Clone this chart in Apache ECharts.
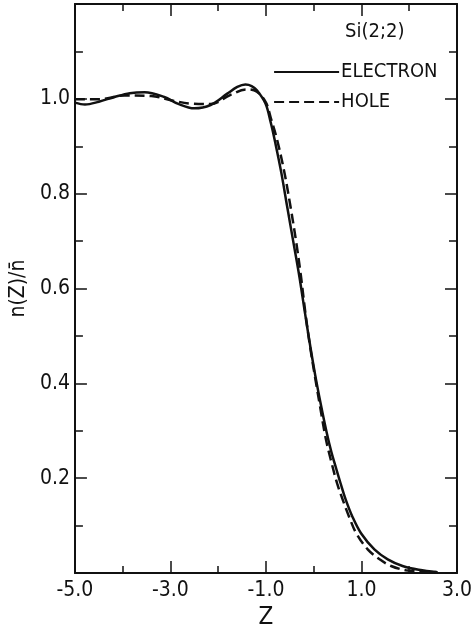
<!DOCTYPE html>
<html><head><meta charset="utf-8">
<script src="https://cdn.jsdelivr.net/npm/echarts@6/dist/echarts.min.js"></script>
<style>html,body{margin:0;padding:0;background:#fff}#c{width:476px;height:635px}</style>
</head><body><div id="c"></div>
<script>
// Data
const electronZ = [-5.0, -4.79, -4.5, -4.17, -3.85, -3.54, -3.13, -2.85, -2.5, -2.16, -1.81, -1.6, -1.43, -1.3, -1.19, -1.01, -0.90, -0.80, -0.68, -0.56, -0.43, -0.30, -0.19, -0.08, 0.03, 0.15, 0.27, 0.37, 0.46, 0.56, 0.67, 0.81, 0.99, 1.27, 1.55, 1.86, 2.2, 2.59];
const electronN = [0.992, 0.988, 0.994, 1.004, 1.012, 1.014, 1.004, 0.990, 0.980, 0.987, 1.011, 1.025, 1.030, 1.027, 1.018, 0.990, 0.950, 0.905, 0.845, 0.775, 0.700, 0.625, 0.553, 0.483, 0.418, 0.355, 0.297, 0.255, 0.224, 0.190, 0.155, 0.119, 0.084, 0.050, 0.029, 0.015, 0.007, 0.002];
const holeZ = [-5.0, -4.5, -3.96, -3.4, -2.99, -2.57, -2.16, -1.75, -1.41, -1.19, -1.0, -0.90, -0.77, -0.62, -0.49, -0.37, -0.27, -0.18, -0.08, 0.03, 0.14, 0.25, 0.36, 0.49, 0.61, 0.74, 0.89, 1.13, 1.38, 1.62, 1.93, 2.3, 2.59];
const holeN = [0.999, 0.999, 1.007, 1.006, 0.997, 0.990, 0.989, 1.008, 1.020, 1.015, 0.992, 0.960, 0.915, 0.848, 0.775, 0.700, 0.628, 0.553, 0.480, 0.412, 0.347, 0.285, 0.238, 0.189, 0.154, 0.119, 0.084, 0.050, 0.029, 0.015, 0.006, 0.003, 0.002];
const xTickLabels = ['-5.0', '-3.0', '-1.0', '1.0', '3.0'];
const yTickLabels = ['0.2', '0.4', '0.6', '0.8', '1.0'];
const seriesNames = ['ELECTRON', 'HOLE'];
const figureTitle = 'Si(2;2)';

const FONT = "'DejaVu Sans Condensed', 'Liberation Sans', sans-serif";
const INK = '#111';

function pairs(xs, ys) { return xs.map((x, i) => [x, ys[i]]); }

const chart = echarts.init(document.getElementById('c'), null, {renderer: 'canvas'});

const xBase = {
  type: 'value', min: -5, max: 3, interval: 2,
  axisLine: {show: true, onZero: false, lineStyle: {color: INK, width: 2}},
  axisTick: {show: true, inside: true, length: 12, lineStyle: {color: INK, width: 1.5}},
  minorTick: {show: true, splitNumber: 2, length: 7, lineStyle: {color: INK, width: 1.5}},
  splitLine: {show: false}, minorSplitLine: {show: false}
};
const yBase = {
  type: 'value', min: 0, max: 1.2, interval: 0.2,
  axisLine: {show: true, onZero: false, lineStyle: {color: INK, width: 2}},
  axisTick: {show: true, inside: true, length: 12, lineStyle: {color: INK, width: 1.5}},
  minorTick: {show: true, splitNumber: 2, length: 8, lineStyle: {color: INK, width: 1.5}},
  splitLine: {show: false}, minorSplitLine: {show: false}
};

chart.setOption({
  backgroundColor: '#fff',
  animation: false,
  title: {
    text: figureTitle, left: 340, top: 17,
    textStyle: {fontFamily: FONT, fontSize: 20, fontWeight: 'normal', color: INK}
  },
  legend: {
    orient: 'vertical', left: 268, top: 57, itemWidth: 65, itemHeight: 20, itemGap: 10,
    data: seriesNames,
    itemStyle: {opacity: 0},
    lineStyle: {width: 2.2},
    textStyle: {fontFamily: FONT, fontSize: 20, color: INK, padding: [0, 0, 0, -3]}
  },
  grid: {left: 73, right: 19, top: 4, bottom: 58, containLabel: false},
  xAxis: [
    Object.assign({}, xBase, {
      position: 'bottom',
      name: 'Z', nameLocation: 'middle', nameGap: 32,
      nameTextStyle: {fontFamily: FONT, fontSize: 24, color: INK},
      axisLabel: {
        show: true, margin: 7, fontFamily: FONT, fontSize: 21, color: INK,
        showMinLabel: true, showMaxLabel: true,
        formatter: v => { const s = (Math.abs(v) < 1e-9 ? 0 : v).toFixed(1); return xTickLabels.includes(s) ? s : ''; }
      }
    }),
    Object.assign({}, xBase, {position: 'top', axisLabel: {show: false}})
  ],
  yAxis: [
    Object.assign({}, yBase, {
      position: 'left',
      name: 'n(Z)/n\u0304', nameLocation: 'middle', nameGap: 42, nameRotate: 90,
      nameTextStyle: {fontFamily: FONT, fontSize: 21, color: INK},
      axisLabel: {
        show: true, margin: 5, fontFamily: FONT, fontSize: 21, color: INK,
        formatter: v => { const s = v.toFixed(1); return yTickLabels.includes(s) ? s : ''; }
      }
    }),
    Object.assign({}, yBase, {position: 'right', axisLabel: {show: false}})
  ],
  series: [
    {
      name: seriesNames[0], type: 'line', xAxisIndex: 0, yAxisIndex: 0,
      data: pairs(electronZ, electronN), smooth: 0.35, symbol: 'none', showSymbol: false,
      lineStyle: {color: INK, width: 2.5, type: 'solid'}, itemStyle: {color: INK}
    },
    {
      name: seriesNames[1], type: 'line', xAxisIndex: 0, yAxisIndex: 0,
      data: pairs(holeZ, holeN), smooth: 0.35, symbol: 'none', showSymbol: false,
      lineStyle: {color: INK, width: 2.5, type: [10, 5]}, itemStyle: {color: INK}
    }
  ]
});
</script>
</body></html>
